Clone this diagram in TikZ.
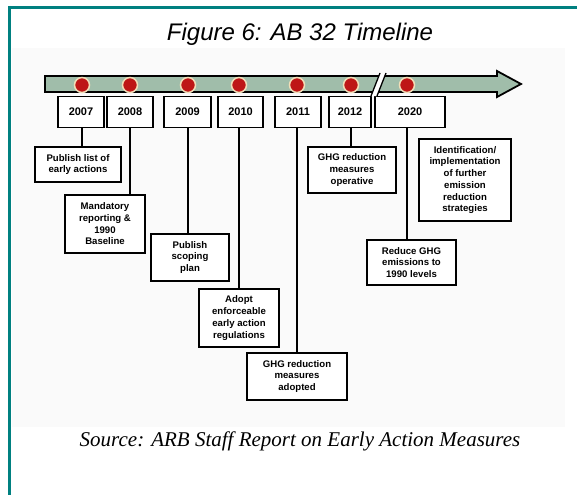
\documentclass[tikz,border=0pt]{standalone}
\usepackage{fontspec}
\setmainfont{Liberation Serif}
\setsansfont{Liberation Sans}
\definecolor{teal1}{RGB}{0,128,128}
\definecolor{barfill}{RGB}{160,189,170}
\definecolor{dotred}{RGB}{190,22,22}
\definecolor{dotring}{RGB}{242,222,184}
\definecolor{bgfaint}{RGB}{250,250,250}
\begin{document}
\begin{tikzpicture}[x=1pt,y=-1pt,
  yearbox/.style={draw, line width=1.8pt, fill=white, inner sep=0pt,
    font=\sffamily\bfseries\fontsize{11}{13}\selectfont, minimum height=31pt},
  descbox/.style={draw, line width=1.8pt, fill=white, inner sep=0pt, align=center,
    font=\sffamily\bfseries\fontsize{9.6}{11.7}\selectfont},
  dot/.style={circle, fill=dotred, draw=dotring, line width=1.5pt, minimum size=15pt, inner sep=0pt},
  link/.style={line width=1.4pt}]
\useasboundingbox (0,0) rectangle (577,495);
% faint background of the figure
\fill[bgfaint] (12,48) rectangle (565,427);
% teal frame
\draw[teal1, line width=2.8pt] (8,7.4) -- (577,7.4);
\draw[teal1, line width=2.8pt] (9.6,6) -- (9.6,495);
% title
\node[font=\sffamily\itshape\fontsize{24}{28}\selectfont] (title) at (300,34) {Figure 6: AB 32 Timeline};
% timeline arrow
\draw[fill=barfill, line width=1.8pt, line join=miter]
  (45,76) -- (497,76) -- (497,71) -- (521,84) -- (497,97) -- (497,92) -- (45,92) -- cycle;
% year boxes
\node[yearbox, minimum width=46pt] (y2007) at (81,112) {2007};
\node[yearbox, minimum width=46pt] (y2008) at (130,112) {2008};
\node[yearbox, minimum width=47pt] (y2009) at (187.5,112) {2009};
\node[yearbox, minimum width=45pt] (y2010) at (240.5,112) {2010};
\node[yearbox, minimum width=46pt] (y2011) at (298,112) {2011};
\node[yearbox, minimum width=42pt] (y2012) at (350,112) {2012};
\node[yearbox, minimum width=70pt] (y2020) at (410,112) {2020};
% break mark
\fill[white] (371,96) -- (380,73) -- (386,73) -- (377,96) -- cycle;
\draw[line width=1.3pt] (371,96) -- (380,73);
\draw[line width=1.3pt] (377,96) -- (386,73);
% dots
\node[dot] (c2007) at (82,85) {};
\node[dot] (c2008) at (130,85) {};
\node[dot] (c2009) at (188,85) {};
\node[dot] (c2010) at (239,85) {};
\node[dot] (c2011) at (297,85) {};
\node[dot] (c2012) at (351,85) {};
\node[dot] (c2020) at (407,85) {};
% description boxes
\node[descbox, minimum width=86pt, minimum height=35pt] (d2007) at (78,164.5) {Publish list of\\early actions};
\node[descbox, minimum width=80pt, minimum height=58pt] (d2008) at (105,224) {Mandatory\\reporting \&\\1990\\Baseline};
\node[descbox, minimum width=78pt, minimum height=47pt] (d2009) at (190,257.5) {Publish\\scoping\\plan};
\node[descbox, minimum width=80pt, minimum height=58pt] (d2010) at (239,318) {Adopt\\enforceable\\early action\\regulations};
\node[descbox, minimum width=100pt, minimum height=47pt] (d2011) at (297,376.5) {GHG reduction\\measures\\adopted};
\node[descbox, minimum width=88pt, minimum height=46pt] (d2012) at (352,170) {GHG reduction\\measures\\operative};
\node[descbox, minimum width=89pt, minimum height=45pt] (d2020) at (411.5,262.5) {Reduce GHG\\emissions to\\1990 levels};
\node[descbox, minimum width=92pt, minimum height=82pt] (dident) at (465,180) {Identification/\\implementation\\of further\\emission\\reduction\\strategies};
% connectors
\draw[link] (c2007 |- y2007.south) -- (c2007 |- d2007.north);
\draw[link] (c2008 |- y2008.south) -- (c2008 |- d2008.north);
\draw[link] (c2009 |- y2009.south) -- (c2009 |- d2009.north);
\draw[link] (c2010 |- y2010.south) -- (c2010 |- d2010.north);
\draw[link] (c2011 |- y2011.south) -- (c2011 |- d2011.north);
\draw[link] (c2012 |- y2012.south) -- (c2012 |- d2012.north);
\draw[link] (c2020 |- y2020.south) -- (c2020 |- d2020.north);
% source
\node[font=\rmfamily\itshape\fontsize{21}{25}\selectfont] (source) at (300,441) {Source: ARB Staff Report on Early Action Measures};
\end{tikzpicture}
\end{document}
